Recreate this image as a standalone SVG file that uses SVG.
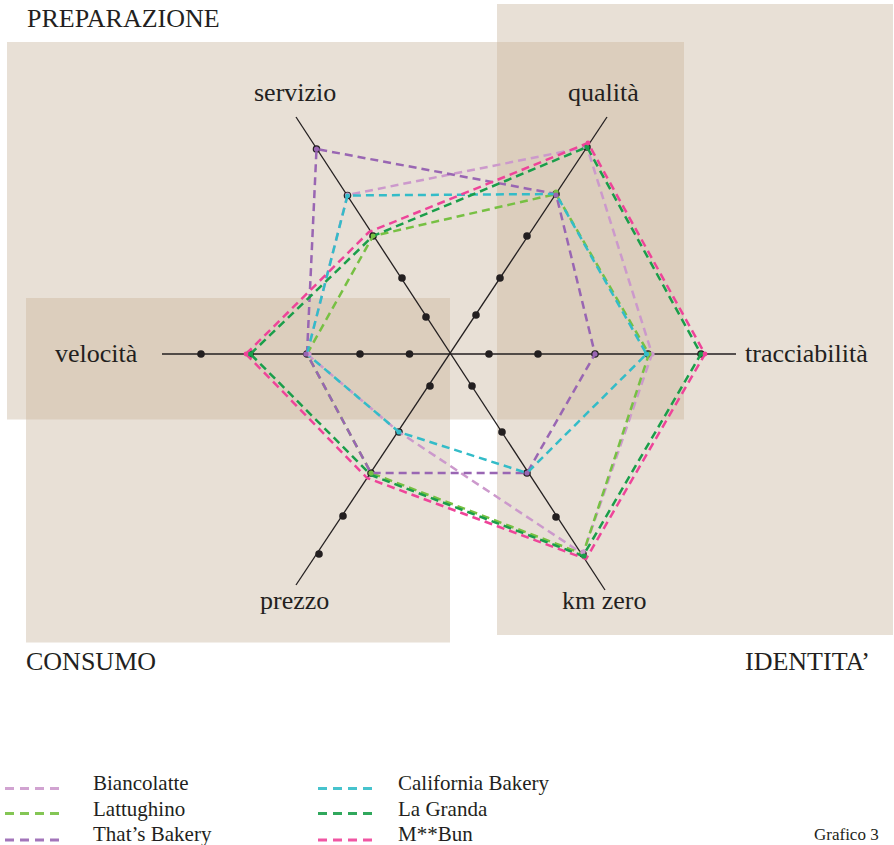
<svg xmlns="http://www.w3.org/2000/svg" width="894" height="845" viewBox="0 0 894 845">
<style>
.bg{fill:#e8e0d6}
.ov{fill:#dccebd}
.ax{stroke:#231f20;stroke-width:1.3;fill:none}
.d{fill:#231f20}
.s{fill:none;stroke-width:2.5;stroke-dasharray:8 5;stroke-linejoin:round}
.lg{fill:none;stroke-width:3;stroke-dasharray:9 6;opacity:0.9}
.lab{font-family:"Liberation Serif","Times New Roman",serif;font-size:26px;fill:#231f20}
.cat{font-family:"Liberation Serif","Times New Roman",serif;font-size:26px;fill:#231f20}
.leg{font-family:"Liberation Serif","Times New Roman",serif;font-size:21px;fill:#231f20}
.c1{stroke:#cc99cc}.f1{fill:#cc99cc}
.c2{stroke:#77c043}.f2{fill:#77c043}
.c3{stroke:#9966b3}.f3{fill:#9966b3}
.c4{stroke:#33bcc8}.f4{fill:#33bcc8}
.c5{stroke:#1a9e4a}.f5{fill:#1a9e4a}
.c6{stroke:#ee4499}.f6{fill:#ee4499}
</style>
<rect width="894" height="845" fill="#ffffff"/>
<g id="areas">
<rect class="bg" x="7" y="42" width="677" height="377.5"/>
<rect class="bg" x="497" y="4" width="396" height="631"/>
<rect class="bg" x="26" y="298" width="424" height="344.5"/>
<rect class="ov" x="497" y="42" width="187" height="377.5"/>
<rect class="ov" x="26" y="298" width="424" height="121.5"/>
</g>
<g id="area-labels">
<text class="cat" x="27" y="27">PREPARAZIONE</text>
<text class="cat" x="26" y="670">CONSUMO</text>
<text class="cat" x="745" y="670">IDENTITA’</text>
</g>
<g id="axes">
<line class="ax" x1="162" y1="354" x2="736" y2="354"/>
<line class="ax" x1="296" y1="117" x2="605" y2="590"/>
<line class="ax" x1="607" y1="117" x2="296" y2="585"/>
<g class="d">
<circle cx="201" cy="354" r="3.8"/><circle cx="250" cy="354" r="3.8"/><circle cx="307" cy="354" r="3.8"/><circle cx="360" cy="354" r="3.8"/><circle cx="409.5" cy="354" r="3.8"/>
<circle cx="489" cy="354" r="3.8"/><circle cx="538" cy="354" r="3.8"/><circle cx="595" cy="354" r="3.8"/><circle cx="648" cy="354" r="3.8"/><circle cx="701" cy="354" r="3.8"/>
<circle cx="426" cy="317" r="3.8"/><circle cx="402" cy="278" r="3.8"/><circle cx="373" cy="236" r="3.8"/><circle cx="347.5" cy="195.5" r="3.8"/><circle cx="316.5" cy="149" r="3.8"/>
<circle cx="476" cy="315" r="3.8"/><circle cx="500" cy="278" r="3.8"/><circle cx="527" cy="236" r="3.8"/><circle cx="556" cy="194" r="3.8"/><circle cx="587" cy="147" r="3.8"/>
<circle cx="430" cy="386" r="3.8"/><circle cx="399" cy="432" r="3.8"/><circle cx="371" cy="473" r="3.8"/><circle cx="343" cy="516" r="3.8"/><circle cx="319" cy="554" r="3.8"/>
<circle cx="472" cy="386" r="3.8"/><circle cx="502" cy="432" r="3.8"/><circle cx="527" cy="473" r="3.8"/><circle cx="556" cy="517" r="3.8"/><circle cx="583" cy="554" r="3.8"/>
</g>
</g>
<g id="axis-labels">
<text class="lab" x="254" y="101">servizio</text>
<text class="lab" x="568" y="101">qualità</text>
<text class="lab" x="55" y="362">velocità</text>
<text class="lab" x="745" y="362">tracciabilità</text>
<text class="lab" x="260" y="609">prezzo</text>
<text class="lab" x="562" y="609">km zero</text>
</g>
<g id="connectors">
<polygon id="biancolatte" class="s c1" points="307,354 347.5,195 587,147 652,354 583,554 399,432"/>
<polygon id="lattughino" class="s c2" points="307,354 373,236 556,194 649,354 583,554 371,473"/>
<polygon id="thats-bakery" class="s c3" points="307,354 316.5,149 556,194 595,354 527,473 371,473"/>
<polygon id="california-bakery" class="s c4" points="307,354 347.5,195.5 556,194 646.5,354 527,473 399,432"/>
<polygon id="la-granda" class="s c5" points="250.5,354 373,236 587,147 701,354 583,556 371,475"/>
<polygon id="mbun" class="s c6" points="246,354 369,232 588,143 705,354 586,559 367,478"/>
</g>
<g id="vertex-marks">
<g class="f1"><circle cx="309" cy="354" r="2.6"/><circle cx="347.5" cy="195" r="2.6"/><circle cx="652" cy="354" r="2.6"/><circle cx="583" cy="552" r="2.6"/></g>
<g class="f2"><circle cx="556" cy="192" r="2.6"/><circle cx="649" cy="354" r="2.6"/><circle cx="373" cy="236" r="2.4"/><circle cx="371" cy="473" r="2.6"/></g>
<g class="f3"><circle cx="306" cy="354" r="2.6"/><circle cx="316.5" cy="149" r="2.6"/><circle cx="556" cy="195" r="2.6"/><circle cx="595" cy="354" r="2.6"/><circle cx="527" cy="473" r="2.6"/></g>
<g class="f4"><circle cx="347.5" cy="196" r="2.4"/><circle cx="646.5" cy="354" r="2.6"/><circle cx="399" cy="432" r="2.6"/></g>
<g class="f5"><circle cx="250.5" cy="354" r="2.6"/><circle cx="587" cy="147" r="2.6"/><circle cx="701" cy="354" r="2.6"/><circle cx="584" cy="556" r="2.6"/></g>
<g class="f6"><circle cx="246" cy="354" r="2.4"/><circle cx="588" cy="143" r="2.4"/><circle cx="705" cy="354" r="2.4"/></g>
</g>
<g id="legend">
<line class="lg c1" x1="5" y1="788.5" x2="60" y2="788.5"/>
<line class="lg c2" x1="5" y1="813.5" x2="60" y2="813.5"/>
<line class="lg c3" x1="5" y1="840" x2="60" y2="840"/>
<line class="lg c4" x1="318" y1="788.5" x2="373" y2="788.5"/>
<line class="lg c5" x1="318" y1="813.5" x2="373" y2="813.5"/>
<line class="lg c6" x1="318" y1="840" x2="373" y2="840"/>
<text class="leg" x="93" y="790">Biancolatte</text>
<text class="leg" x="93" y="816">Lattughino</text>
<text class="leg" x="93" y="841">That’s Bakery</text>
<text class="leg" x="398" y="790">California Bakery</text>
<text class="leg" x="398" y="816">La Granda</text>
<text class="leg" x="398" y="841">M**Bun</text>
<text class="leg" x="814" y="840" style="font-size:17px">Grafico 3</text>
</g>
</svg>
